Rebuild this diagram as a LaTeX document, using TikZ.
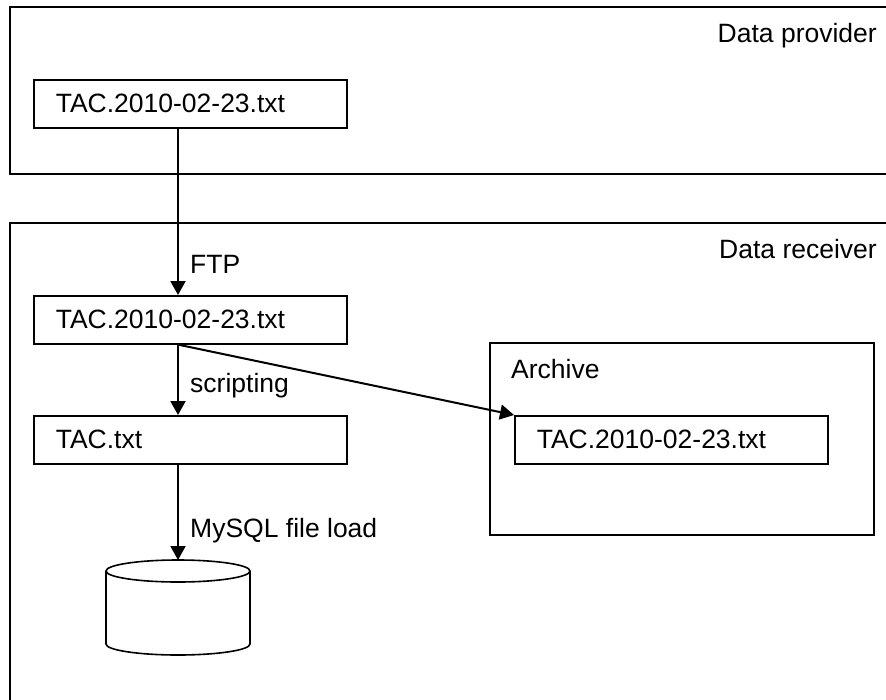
\documentclass[tikz,border=0pt]{standalone}
\usepackage{fontspec}
\setmainfont{Liberation Sans}
\usetikzlibrary{arrows.meta}
\begin{document}
\begin{tikzpicture}[x=1pt,y=-1pt,
  filebox/.style={draw,line width=1.6pt,minimum height=48pt,inner xsep=22pt,inner ysep=0pt,anchor=north west,align=left,font=\fontsize{26.5}{30}\selectfont},
  lbl/.style={inner sep=0pt,font=\fontsize{26.5}{30}\selectfont},
  frame/.style={draw,line width=1.6pt},
  flow/.style={line width=2pt,-{Triangle[width=15pt,length=14pt]}}]
\useasboundingbox (0,0) rectangle (886,699);
\clip (0,0) rectangle (886,699);
% containers
\draw[frame] (10,7) rectangle (900,174);
\draw[frame] (10,223) rectangle (900,720);
\node[lbl,anchor=base east] (provlbl) at (877,42) {Data provider};
\node[lbl,anchor=base east] (reclbl) at (877,258) {Data receiver};
% archive
\draw[frame] (490,343) rectangle (874,535);
\node[lbl,anchor=base west] (arclbl) at (511,378) {Archive};
% file boxes
\node[filebox,text width=269pt] (a) at (33,79) {TAC.2010-02-23.txt};
\node[filebox,text width=269pt] (b) at (33,295) {TAC.2010-02-23.txt};
\node[filebox,text width=269pt] (c) at (33,415) {TAC.txt};
\node[filebox,text width=269pt] (d) at (514,415) {TAC.2010-02-23.txt};
% database cylinder
\coordinate (db) at (178,560);
\draw[line width=1.6pt,fill=white] (106,571) -- (106,644) arc[start angle=180,end angle=0,x radius=72,y radius=11] -- (250,571);
\draw[line width=1.6pt] (178,571) ellipse[x radius=72,y radius=11];
% connectors
\draw[flow] (a.south west -| db) -- (b.north west -| db);
\draw[flow] (b.south west -| db) -- (c.north west -| db);
\draw[flow] (b.south west -| db) -- (d.north west);
\draw[flow] (c.south west -| db) -- (db);
% connector labels
\node[lbl,anchor=base west] (ftp) at (190,273) {FTP};
\node[lbl,anchor=base west] (scr) at (190,392) {scripting};
\node[lbl,anchor=base west] (sql) at (190,537) {MySQL file load};
\end{tikzpicture}
\end{document}
